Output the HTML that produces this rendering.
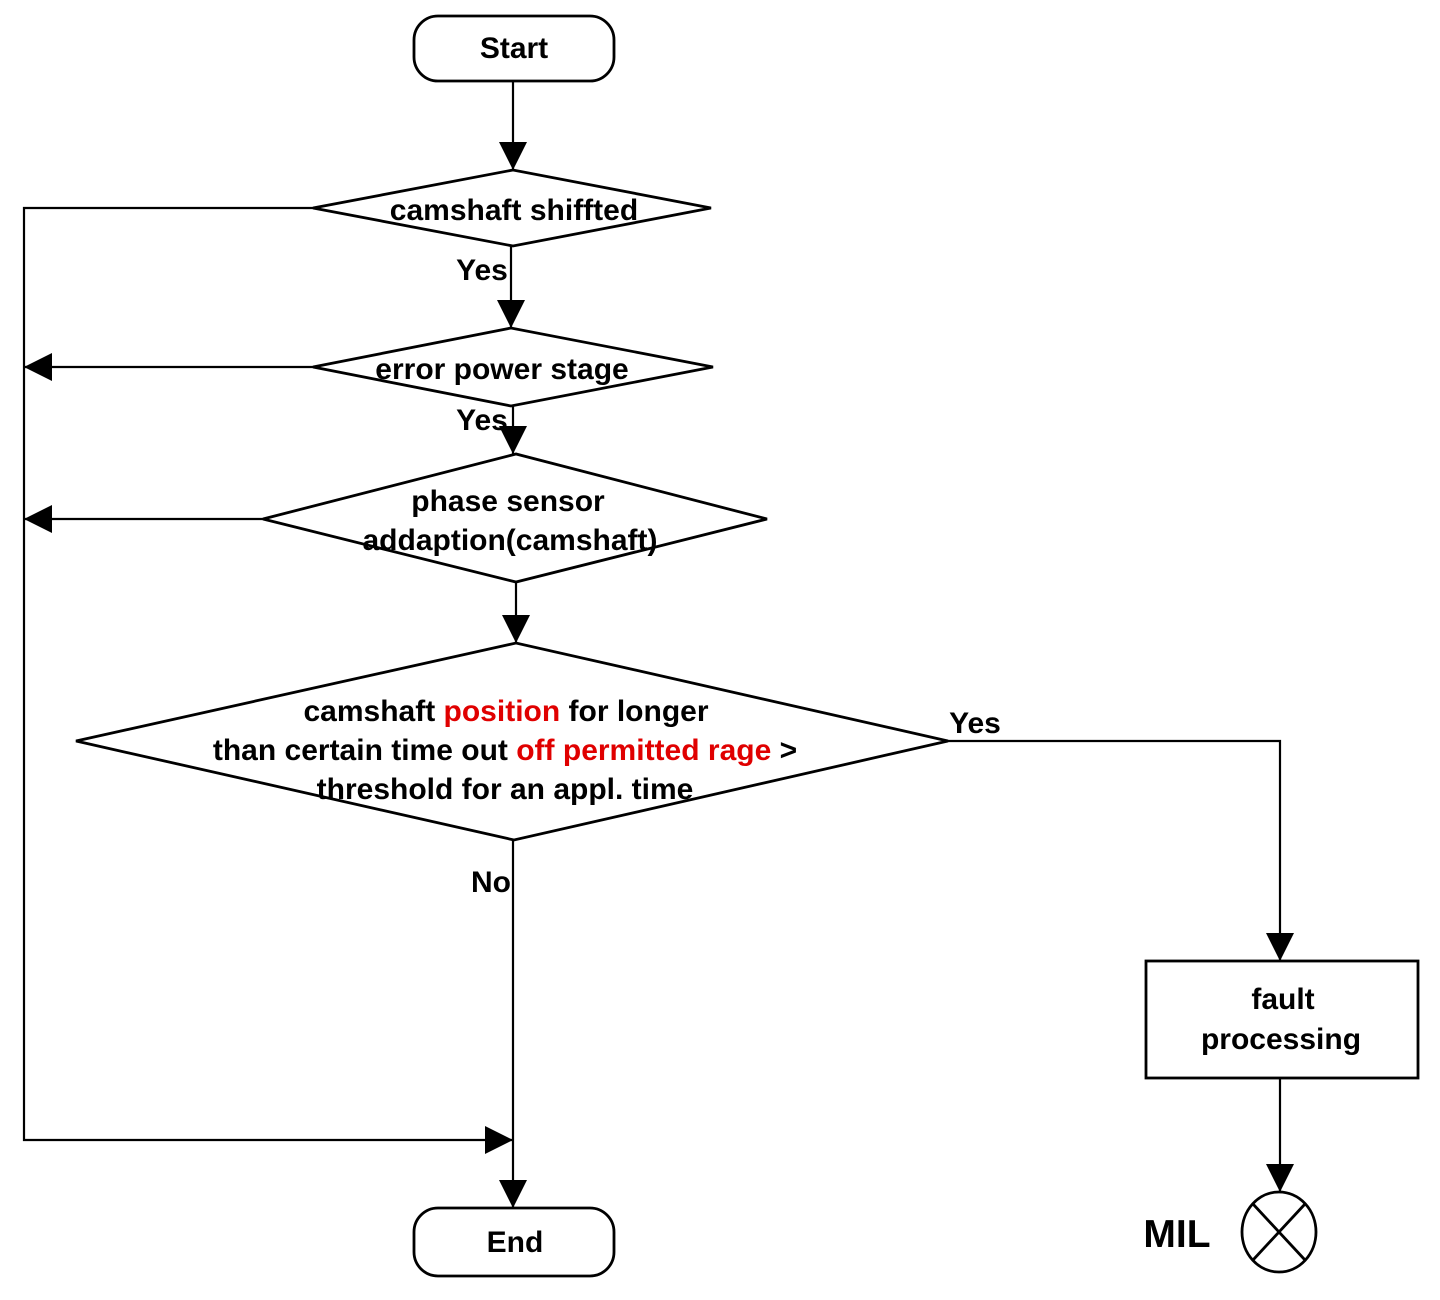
<!DOCTYPE html>
<html><head><meta charset="utf-8"><style>
html,body{margin:0;padding:0;background:#fff;}
svg{display:block;}
text{font-family:"Liberation Sans",Arial,sans-serif;font-weight:bold;font-size:30px;fill:#000;}
</style></head><body>
<svg width="1440" height="1300" viewBox="0 0 1440 1300" xmlns="http://www.w3.org/2000/svg">
<defs>
<marker id="a" markerWidth="30" markerHeight="30" refX="28" refY="14" orient="auto" markerUnits="userSpaceOnUse">
<path d="M0,0 L28,14 L0,28 z" fill="#000"/>
</marker>
</defs>
<g fill="none" stroke="#000" stroke-width="2.8">
<rect x="414" y="16" width="200" height="65" rx="24" ry="24"/>
<rect x="414" y="1208" width="200" height="68" rx="24" ry="24"/>
<polygon points="313,208 513,170 711,208 513,246"/>
<polygon points="313,367 511,328 713,367 511,406"/>
<polygon points="263,519 516,454 767,519 516,582"/>
<polygon points="76,741 516,643 948,741 514,840"/>
<rect x="1146" y="961" width="272" height="117"/>
<ellipse cx="1279" cy="1232" rx="37" ry="40"/>
<line x1="1253" y1="1204" x2="1305" y2="1260"/>
<line x1="1305" y1="1204" x2="1253" y2="1260"/>
</g>
<g fill="none" stroke="#000" stroke-width="2.2">
<line x1="513" y1="81" x2="513" y2="170" marker-end="url(#a)"/>
<polyline points="313,208 24,208 24,1140 513,1140" marker-end="url(#a)"/>
<line x1="511" y1="246" x2="511" y2="328" marker-end="url(#a)"/>
<line x1="313" y1="367" x2="24" y2="367" marker-end="url(#a)"/>
<line x1="513" y1="406" x2="513" y2="454" marker-end="url(#a)"/>
<line x1="263" y1="519" x2="24" y2="519" marker-end="url(#a)"/>
<line x1="516" y1="582" x2="516" y2="643" marker-end="url(#a)"/>
<polyline points="948,741 1280,741 1280,961" marker-end="url(#a)"/>
<line x1="1280" y1="1078" x2="1280" y2="1192" marker-end="url(#a)"/>
<line x1="513" y1="840" x2="513" y2="1208" marker-end="url(#a)"/>
</g>
<g text-anchor="middle">
<text x="514" y="58">Start</text>
<text x="515" y="1252">End</text>
<text x="514" y="220">camshaft shiffted</text>
<text x="502" y="379">error power stage</text>
<text x="508" y="511">phase sensor</text>
<text x="510" y="550">addaption(camshaft)</text>
<text x="506" y="721">camshaft <tspan fill="#e00000">position</tspan>  for longer</text>
<text x="505" y="760">than certain time out <tspan fill="#e00000">off permitted rage</tspan> &gt;</text>
<text x="505" y="799">threshold for an appl. time</text>
<text x="1283" y="1009">fault</text>
<text x="1281" y="1049">processing</text>
<text x="482" y="280">Yes</text>
<text x="482" y="430">Yes</text>
<text x="975" y="733">Yes</text>
<text x="491" y="892">No</text>
<text x="1177" y="1247" style="font-size:39px">MIL</text>
</g>
</svg>
</body></html>
